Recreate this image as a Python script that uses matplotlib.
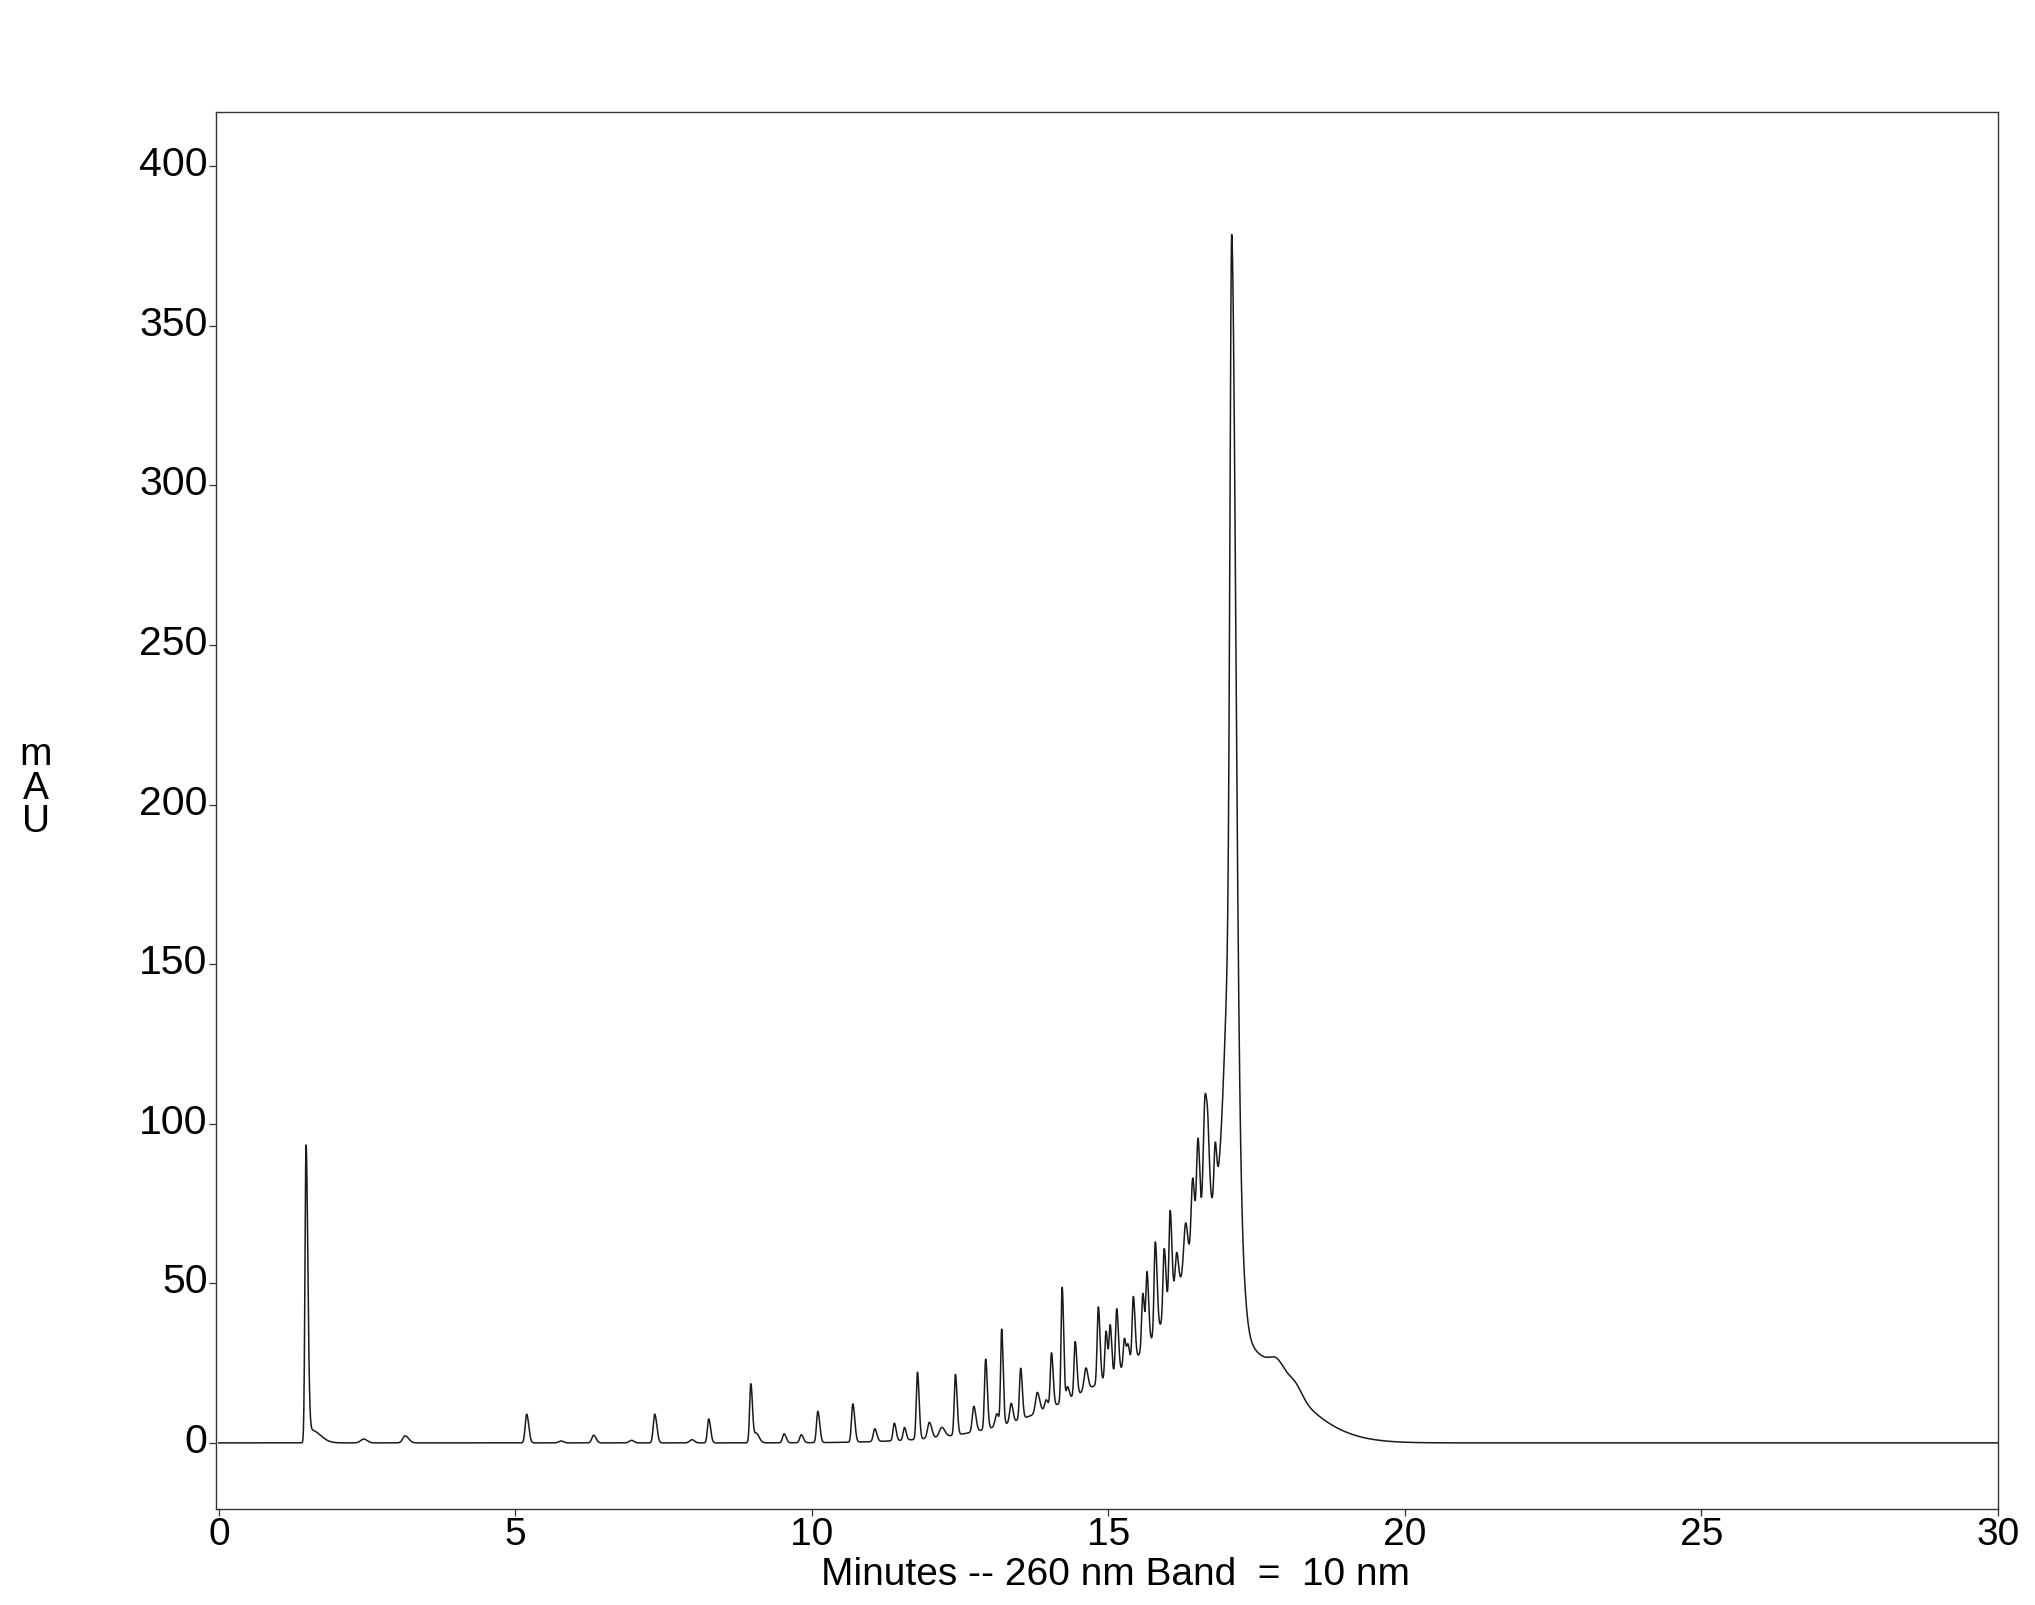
import numpy as np
import matplotlib
matplotlib.use("Agg")
import matplotlib.pyplot as plt
from matplotlib import transforms

# ---------------- data ----------------
# individual peaks: retention time (min), height above background (mAU),
# left / right half-widths (sigma, min)
peak_time = [1.47, 1.56, 2.44, 3.14, 5.19, 5.77, 6.32, 6.96, 7.35, 7.98,
             8.26, 8.97, 9.06, 9.53, 9.82, 10.10, 10.69, 11.06, 11.39, 11.56,
             11.78, 11.98, 12.19, 12.42, 12.73, 12.93, 13.12, 13.20, 13.36, 13.52,
             13.80, 13.95, 14.04, 14.22, 14.31, 14.44, 14.62, 14.83, 14.96, 15.03,
             15.14, 15.27, 15.33, 15.42, 15.58, 15.65, 15.79, 15.94, 16.04, 16.15,
             16.30, 16.42, 16.51, 16.63, 16.68, 16.80,
             17.08, 17.07, 17.85, 18.14]
peak_height = [93, 4, 1.2, 2.2, 9.0, 0.6, 2.4, 0.8, 9.0, 1.0,
               7.5, 18.5, 3.0, 2.8, 2.5, 9.8, 12.0, 4.0, 5.5, 4.0,
               21, 5, 3, 19, 8, 22, 4, 30, 6, 16,
               6.5, 3, 17, 36, 4, 17, 7, 24, 15, 16,
               20, 9, 6, 20, 18, 23, 29, 22, 30, 12,
               14, 22, 30, 38, 15, 16,
               225, 85, 4.5, 3.5]
peak_wl = [0.018, 0.04, 0.05, 0.04, 0.025, 0.04, 0.03, 0.04, 0.025, 0.04,
           0.022, 0.02, 0.03, 0.025, 0.025, 0.022, 0.022, 0.025, 0.022, 0.022,
           0.02, 0.03, 0.04, 0.02, 0.025, 0.02, 0.03, 0.018, 0.025, 0.02,
           0.03, 0.025, 0.02, 0.018, 0.02, 0.02, 0.03, 0.02, 0.02, 0.02,
           0.02, 0.02, 0.02, 0.02, 0.02, 0.02, 0.02, 0.02, 0.02, 0.025,
           0.03, 0.025, 0.025, 0.03, 0.02, 0.02,
           0.03, 0.10, 0.12, 0.12]
peak_wr = [0.03, 0.15, 0.06, 0.06, 0.035, 0.04, 0.04, 0.04, 0.035, 0.04,
           0.032, 0.028, 0.05, 0.035, 0.035, 0.032, 0.032, 0.035, 0.03, 0.03,
           0.028, 0.04, 0.05, 0.028, 0.035, 0.028, 0.03, 0.025, 0.03, 0.028,
           0.04, 0.03, 0.028, 0.025, 0.03, 0.028, 0.035, 0.028, 0.025, 0.025,
           0.028, 0.025, 0.025, 0.028, 0.025, 0.028, 0.03, 0.03, 0.03, 0.03,
           0.035, 0.03, 0.03, 0.035, 0.03, 0.025,
           0.065, 0.12, 0.12, 0.12]

# broad rising background (gradient hump) under the late peaks
hump_time = [16.98, 16.98]
hump_height = [45, 33]
hump_wl = [0.6, 2.0]
hump_wr = [0.15, 0.95]

x_ticks = [0, 5, 10, 15, 20, 25, 30]
y_ticks = [0, 50, 100, 150, 200, 250, 300, 350, 400]
x_label = "Minutes -- 260 nm Band  =  10 nm"
y_label = "m\nA\nU"


def band(t, c, h, wl, wr):
    s = np.where(t < c, wl, wr)
    return h * np.exp(-0.5 * ((t - c) / s) ** 2)


t = np.linspace(0, 30, 12001)
signal = np.zeros_like(t)
for c, h, wl, wr in zip(hump_time, hump_height, hump_wl, hump_wr):
    signal += band(t, c, h, wl, wr)
for c, h, wl, wr in zip(peak_time, peak_height, peak_wl, peak_wr):
    signal += band(t, c, h, wl, wr)

# ---------------- figure ----------------
plt.rcParams['font.family'] = ['Liberation Sans', 'DejaVu Sans']
fig = plt.figure(figsize=(20.35, 16.06), dpi=100)
ax = fig.add_axes([0.1061, 0.0598, 0.8757, 0.8699])

ax.plot(t, signal, color='#1a1a1a', lw=1.1)

ax.set_xlim(-0.05, 30)
ax.set_ylim(-20.7, 417)
ax.set_xticks(x_ticks)
ax.set_yticks(y_ticks)
ax.set_xticklabels([str(v) for v in x_ticks])
ax.set_yticklabels([str(v) for v in y_ticks])
ax.tick_params(axis='x', labelsize=28, direction='out', length=5,
               width=0.9, color='#333333', pad=0)
ax.tick_params(axis='y', labelsize=29.5, direction='out', length=5,
               width=0.9, color='#333333', pad=1)

for sp in ax.spines.values():
    sp.set_color('#333333')
    sp.set_linewidth(1.0)

offset = transforms.ScaledTranslation(0, 0.06, fig.dpi_scale_trans)
for lab in ax.get_yticklabels():
    lab.set_transform(lab.get_transform() + offset)

fig.text(0.548, 0.0195, x_label, ha='center', va='center', fontsize=28)
fig.text(0.0177, 0.509, y_label, ha='center', va='center', fontsize=28,
         linespacing=0.92)

fig.savefig('out.png', dpi=100, facecolor='white')
